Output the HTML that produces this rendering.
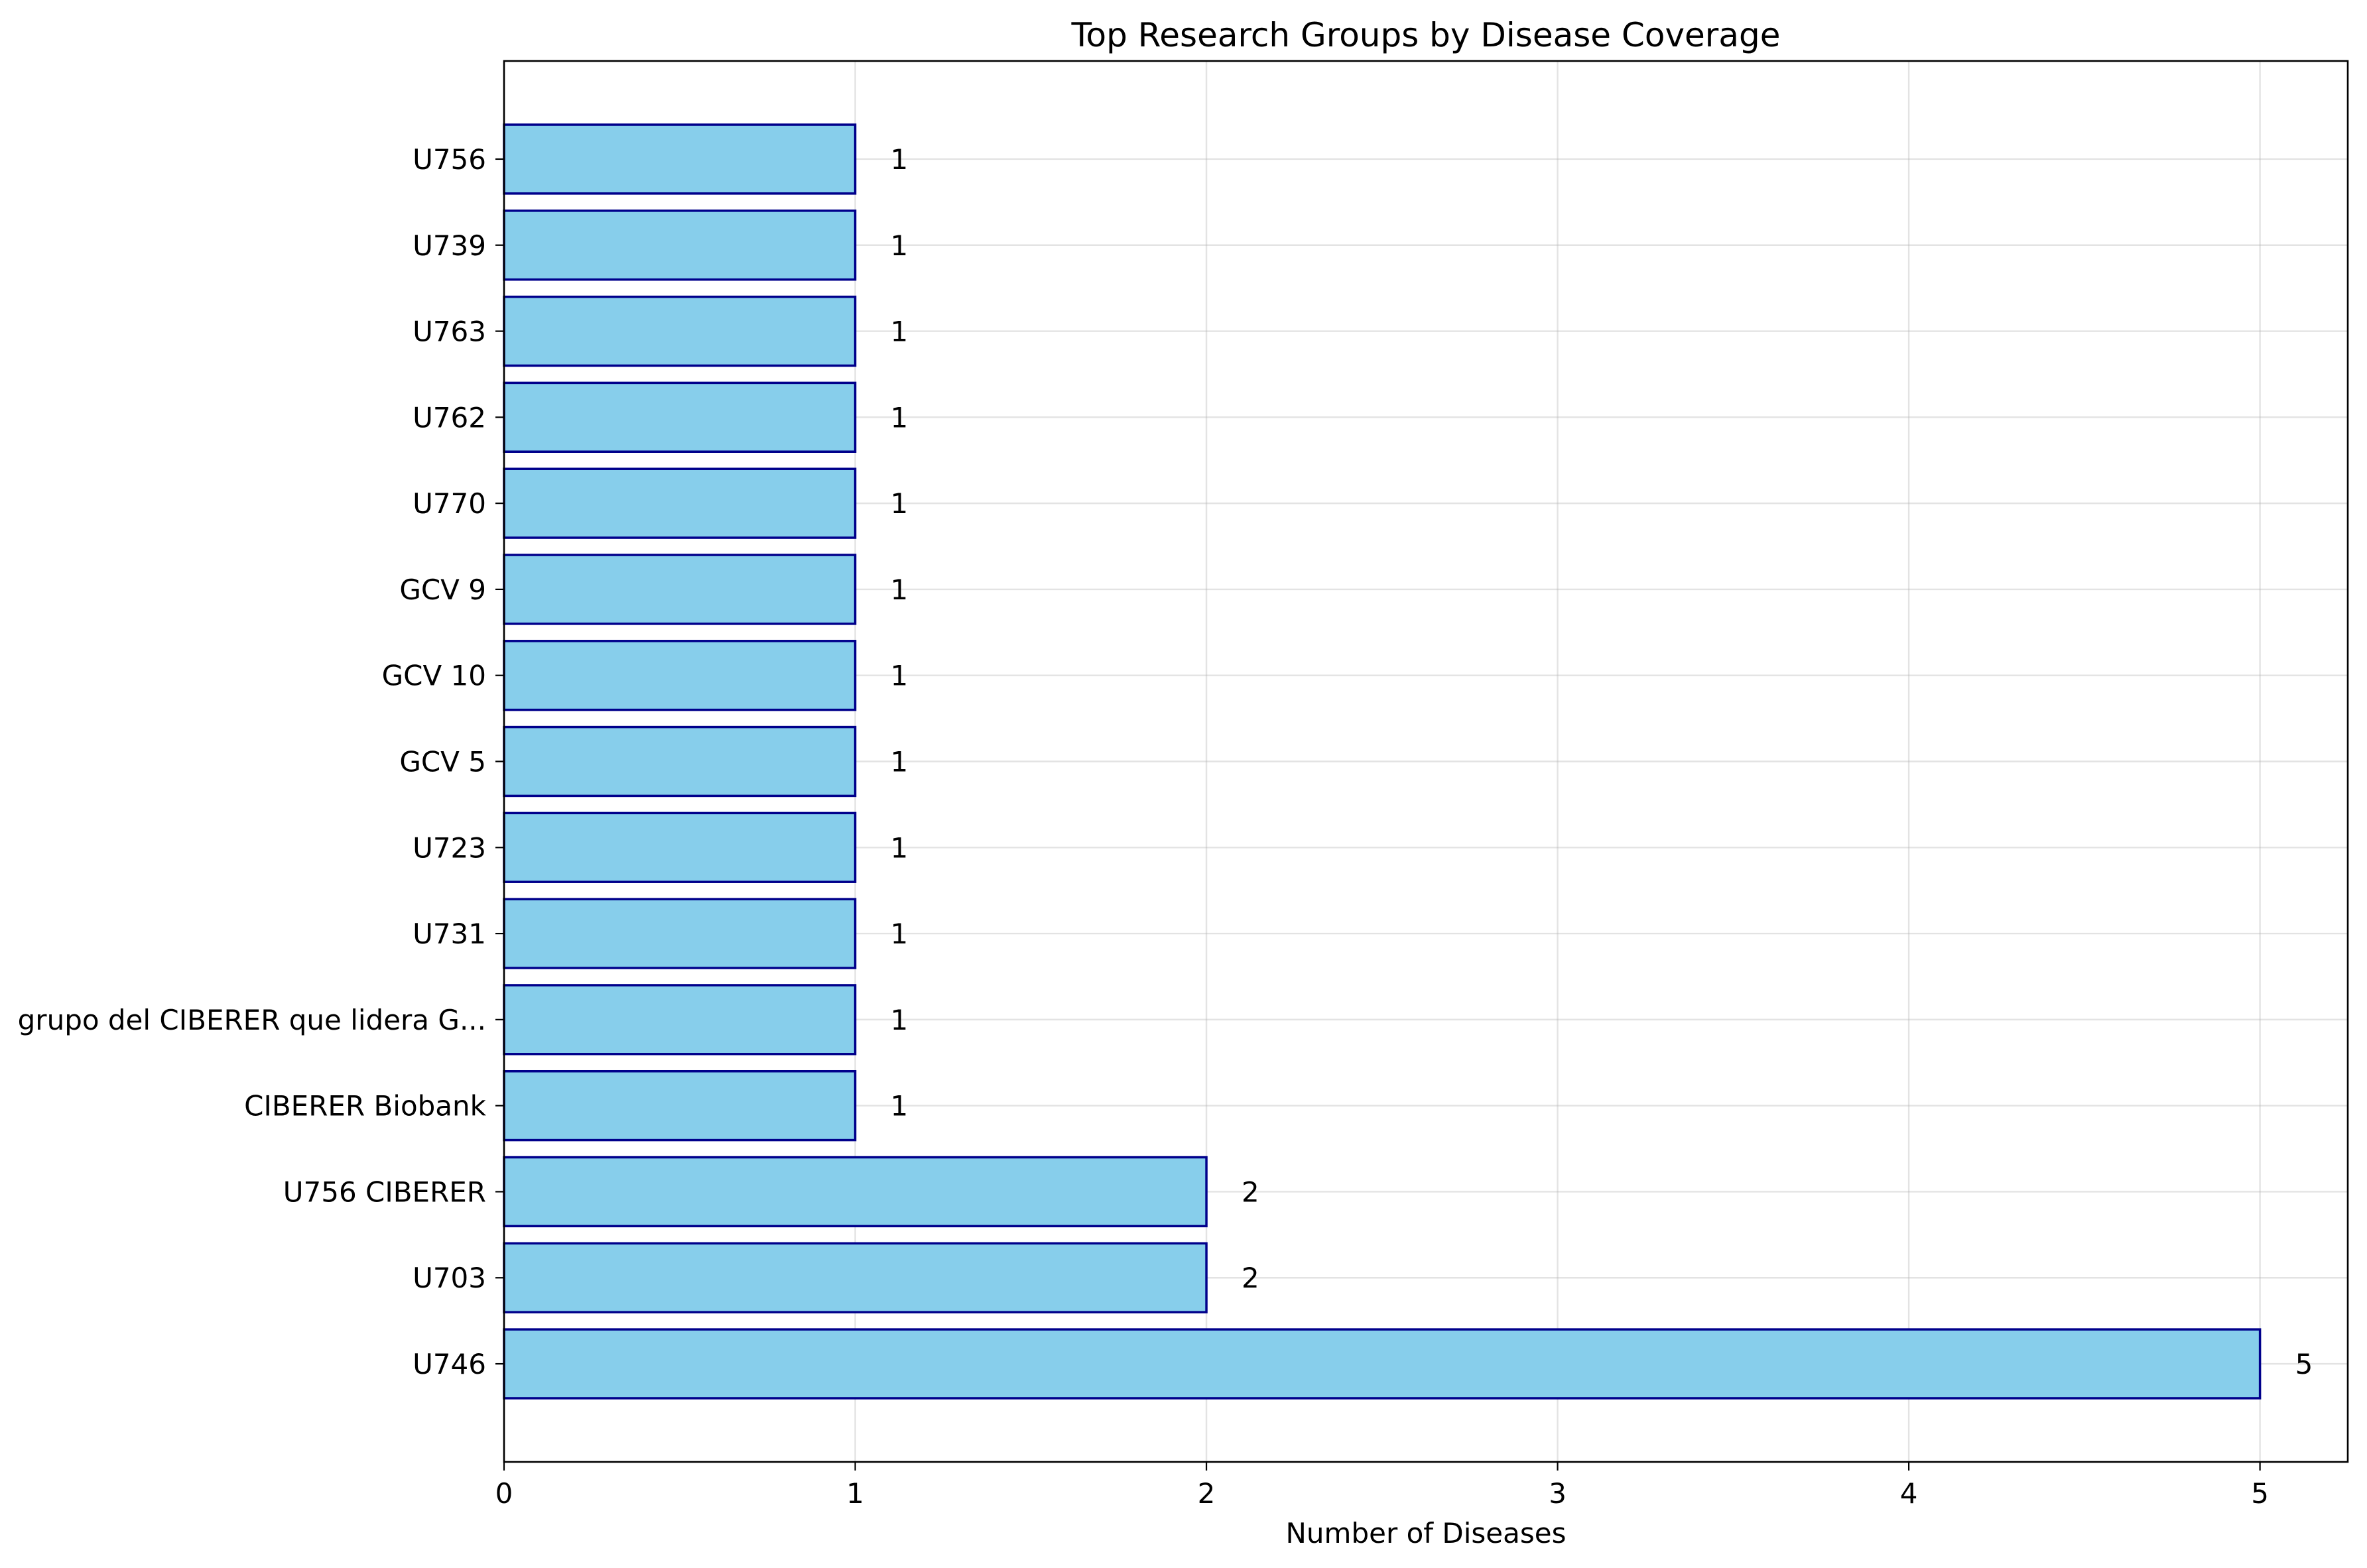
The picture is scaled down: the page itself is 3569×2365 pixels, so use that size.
<!DOCTYPE html>
<html><head><meta charset="utf-8">
<style>html,body{margin:0;padding:0;background:#fff;}svg{display:block;font-family:"DejaVu Sans","Liberation Sans",sans-serif;}</style>
</head><body>
<svg id="chart" width="3569" height="2365" viewBox="0 0 3569 2365" xmlns="http://www.w3.org/2000/svg">
<rect width="3569" height="2365" fill="#fff"/>
<g id="grid"></g><g id="bars"></g><g id="axes"></g><g id="labels"></g>
</svg>
<script>
const categories = ["U746","U703","U756 CIBERER","CIBERER Biobank","grupo del CIBERER que lidera G...","U731","U723","GCV 5","GCV 10","GCV 9","U770","U762","U763","U739","U756"];
const values = [5,2,2,1,1,1,1,1,1,1,1,1,1,1,1];
const xTicks = [0,1,2,3,4,5];

const L=760,R=3540,T=92,B=2205;
const xMax=5.25, yMin=-1.14, yMax=categories.length-1+1.14;
const X=v=>L+(v/xMax)*(R-L);
const Y=i=>B-((i-yMin)/(yMax-yMin))*(B-T);
const NS="http://www.w3.org/2000/svg";
function mk(tag,attrs,parent,text){const e=document.createElementNS(NS,tag);for(const k in attrs)e.setAttribute(k,attrs[k]);if(text!==undefined)e.textContent=text;document.getElementById(parent).appendChild(e);return e;}
const FS=42;
xTicks.forEach(t=>{
 const g=mk('line',{x1:X(t),x2:X(t),y1:T,y2:B,stroke:'#b0b0b0','stroke-opacity':0.35,'stroke-width':2.4},'grid');
 
 
});
categories.forEach((c,i)=>{
 const g=mk('line',{x1:L,x2:R,y1:Y(i),y2:Y(i),stroke:'#b0b0b0','stroke-opacity':0.35,'stroke-width':2.4},'grid');
 
 
});
const bh=(Y(0)-Y(0.8));
categories.forEach((c,i)=>{
 const r=mk('rect',{x:X(0),y:Y(i)-bh/2,width:X(values[i])-X(0),height:bh,fill:'#87ceeb',stroke:'#00008b','stroke-width':3.5},'bars');
 
 
 const v=mk('text',{x:X(values[i]+0.1),y:Y(i)+15,'font-size':FS,fill:'#000'},'labels',String(values[i]));
 
 
 const tk=mk('line',{x1:L-13,x2:L,y1:Y(i),y2:Y(i),stroke:'#000','stroke-width':2.2},'axes');
 
 
 const yl=mk('text',{x:L-27,y:Y(i)+15,'font-size':FS,'text-anchor':'end',fill:'#000'},'labels',c);
 
 
});
xTicks.forEach(t=>{
 const tk=mk('line',{x1:X(t),x2:X(t),y1:B,y2:B+13,stroke:'#000','stroke-width':2.2},'axes');
 
 
 const xl=mk('text',{x:X(t),y:B+62,'font-size':FS,'text-anchor':'middle',fill:'#000'},'labels',String(t));
 
 
});
const frame=mk('rect',{x:L,y:T,width:R-L,height:B-T,fill:'none',stroke:'#000','stroke-width':2.6},'axes');


const xt=mk('text',{x:(L+R)/2,y:2327,'font-size':FS,'text-anchor':'middle',fill:'#000'},'labels','Number of Diseases');


const tt=mk('text',{x:(L+R)/2,y:70,'font-size':50,'text-anchor':'middle',fill:'#000'},'labels','Top Research Groups by Disease Coverage');


</script>
</body></html>
